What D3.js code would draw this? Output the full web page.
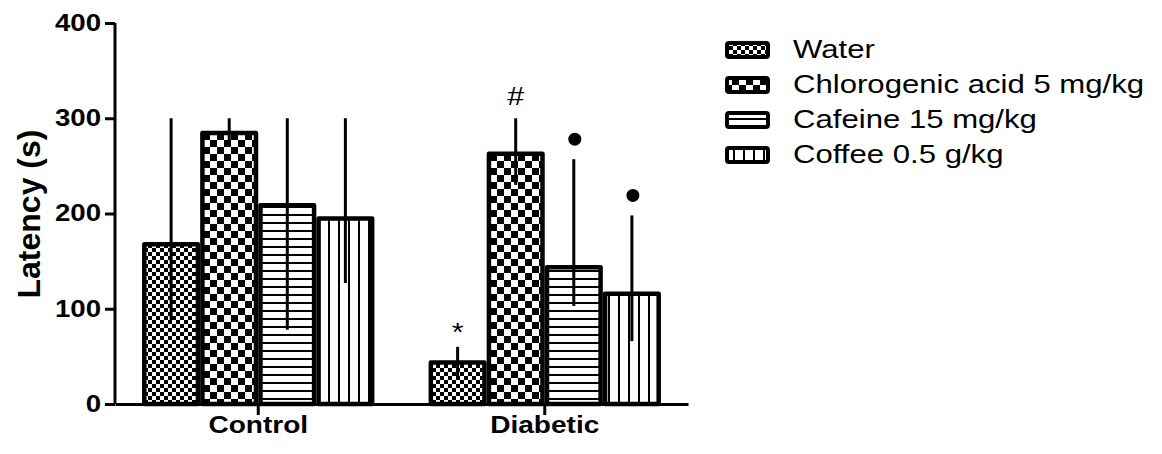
<!DOCTYPE html>
<html>
<head>
<meta charset="utf-8">
<script src="https://cdn.jsdelivr.net/npm/d3@7"></script>
<style>
  body { margin: 0; background: #fff; }
  svg { display: block; }
  text { font-family: "Liberation Sans", Arial, sans-serif; fill: #000; }
</style>
</head>
<body>
<div id="chart"></div>
<script>
/* data */
var groups = ["Control", "Diabetic"];
var series = ["Water", "Chlorogenic acid 5 mg/kg", "Cafeine 15 mg/kg", "Coffee 0.5 g/kg"];
var controlMeans = [170, 287, 211, 197];
var diabeticMeans = [46, 265, 146, 118];
var controlErrHigh = [300, 300, 300, 300];
var diabeticErrHigh = [60, 300, 257, 198];
var controlErrLow = [88, 274, 78, 127];
var diabeticErrLow = [29, 230, 103, 66];
var controlMarks = ["", "", "", ""];
var diabeticMarks = ["*", "#", "dot", "dot"];
var yTicks = [0, 100, 200, 300, 400];

var width = 1162, height = 454;
var svg = d3.select("#chart").append("svg")
    .attr("width", width)
    .attr("height", height);

var defs = svg.append("defs");

/* fill patterns */
function checker(id, s) {
    var p = defs.append("pattern").attr("id", id)
        .attr("patternUnits", "userSpaceOnUse")
        .attr("width", s * 2).attr("height", s * 2);
    p.append("rect").attr("width", s * 2).attr("height", s * 2).attr("fill", "#fff");
    p.append("rect").attr("width", s).attr("height", s).attr("fill", "#000");
    p.append("rect").attr("x", s).attr("y", s).attr("width", s).attr("height", s).attr("fill", "#000");
}
checker("pat0", 4);
checker("pat1", 7);

var ph = defs.append("pattern").attr("id", "pat2")
    .attr("patternUnits", "userSpaceOnUse").attr("width", 8).attr("height", 8);
ph.append("rect").attr("width", 8).attr("height", 8).attr("fill", "#fff");
ph.append("rect").attr("y", 6).attr("width", 8).attr("height", 2).attr("fill", "#000");

var pv = defs.append("pattern").attr("id", "pat3")
    .attr("patternUnits", "userSpaceOnUse").attr("width", 10).attr("height", 10);
pv.append("rect").attr("width", 10).attr("height", 10).attr("fill", "#fff");
pv.append("rect").attr("x", 8).attr("width", 2).attr("height", 10).attr("fill", "#000");

/* build rows */
var rows = [];
groups.forEach(function(g, gi) {
    var means = gi == 0 ? controlMeans : diabeticMeans;
    var hi = gi == 0 ? controlErrHigh : diabeticErrHigh;
    var lo = gi == 0 ? controlErrLow : diabeticErrLow;
    var mk = gi == 0 ? controlMarks : diabeticMarks;
    series.forEach(function(s, si) {
        rows.push({ group: g, series: s, si: si, value: means[si], hi: hi[si], lo: lo[si], mark: mk[si] });
    });
});

/* scales */
var x0 = d3.scaleBand().domain(groups).range([115, 688]);
var x1 = d3.scaleBand().domain(series).range([0, x0.bandwidth()]).paddingOuter(0.466);
var y = d3.scaleLinear().domain([0, 400]).range([404, 23]);

var sx = 1.22; // text in the figure is stretched sideways

/* bars */
var bw = 4.5;
svg.append("g").selectAll("rect")
    .data(rows)
    .enter()
    .append("rect")
    .attr("x", function(d) { return x0(d.group) + x1(d.series) + bw / 2 })
    .attr("y", function(d) { return y(d.value) + bw / 2 })
    .attr("width", x1.bandwidth() - bw)
    .attr("height", function(d) { return y(0) - y(d.value) - bw / 2 })
    .attr("fill", function(d) { return "url(#pat" + d.si + ")" })
    .attr("stroke", "#000")
    .attr("stroke-width", bw)
    .attr("stroke-linejoin", "round");

/* error bars */
svg.append("g").selectAll("line")
    .data(rows)
    .enter()
    .append("line")
    .attr("x1", function(d) { return x0(d.group) + x1(d.series) + x1.bandwidth() / 2 })
    .attr("x2", function(d) { return x0(d.group) + x1(d.series) + x1.bandwidth() / 2 })
    .attr("y1", function(d) { return y(d.hi) })
    .attr("y2", function(d) { return y(d.lo) })
    .attr("stroke", "#000")
    .attr("stroke-width", 3);

/* significance marks */
var marks = svg.append("g");
rows.filter(function(d) { return d.mark != "" }).forEach(function(d) {
    var cx = x0(d.group) + x1(d.series) + x1.bandwidth() / 2;
    if (d.mark == "dot") {
        marks.append("circle")
            .attr("cx", cx + 1)
            .attr("cy", y(d.hi) - 20)
            .attr("r", 6.5)
            .attr("fill", "#000");
    } else {
        marks.append("text")
            .attr("transform", "translate(" + cx + "," + (y(d.hi) - (d.mark == "*" ? 6 : 13)) + ") scale(" + sx + ",1)")
            .attr("text-anchor", "middle")
            .style("font-size", "25px")
            .text(d.mark);
    }
});

/* y axis */
var yAxis = svg.append("g")
    .attr("transform", "translate(115,0)")
    .call(d3.axisLeft(y).tickValues(yTicks).tickSize(10).tickSizeOuter(0));
yAxis.select(".domain").attr("stroke-width", 3).attr("d", "M0," + y(400) + "V" + y(0));
yAxis.selectAll(".tick line").attr("stroke-width", 3);
yAxis.selectAll(".tick text")
    .attr("x", -14 / 1.2)
    .attr("transform", "scale(1.2,1)")
    .style("font-size", "23px")
    .style("font-weight", "bold")
    .style("font-family", "'Liberation Sans', Arial, sans-serif");

/* x axis */
var xAxis = svg.append("g")
    .attr("transform", "translate(0," + y(0) + ")")
    .call(d3.axisBottom(x0).tickSize(11).tickSizeOuter(0));
xAxis.select(".domain").attr("stroke-width", 3);
xAxis.selectAll(".tick line").attr("stroke-width", 3);
xAxis.selectAll(".tick text")
    .attr("y", 29)
    .attr("dy", 0)
    .attr("transform", "scale(" + sx + ",1)")
    .style("font-size", "23px")
    .style("font-weight", "bold")
    .style("font-family", "'Liberation Sans', Arial, sans-serif");

/* y axis title */
svg.append("text")
    .attr("transform", "translate(40,214) rotate(-90)")
    .attr("text-anchor", "middle")
    .style("font-size", "32px")
    .style("font-weight", "bold")
    .text("Latency (s)");

/* legend */
var legend = svg.append("g").attr("transform", "translate(725,0)");
series.forEach(function(s, i) {
    var row = legend.append("g").attr("transform", "translate(0," + (50 + i * 35) + ")");
    row.append("rect")
        .attr("x", 2).attr("y", -7)
        .attr("width", 41).attr("height", 14)
        .attr("rx", 2)
        .attr("fill", "url(#pat" + i + ")")
        .attr("stroke", "#000")
        .attr("stroke-width", 4);
    row.append("text")
        .attr("transform", "translate(68,8) scale(1.245,1)")
        .style("font-size", "25px")
        .text(s);
});
</script>
</body>
</html>
